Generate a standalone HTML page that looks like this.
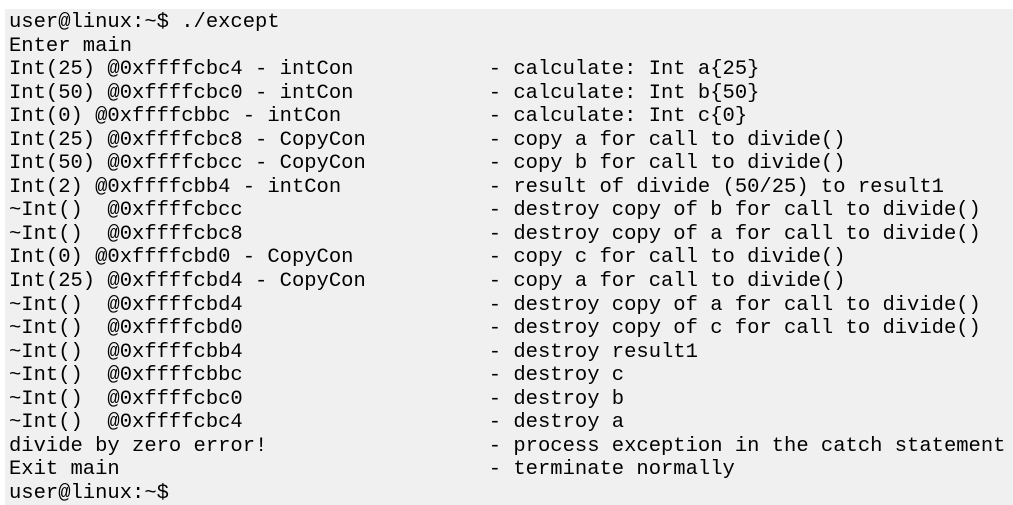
<!DOCTYPE html>
<html><head><style>
html,body{margin:0;padding:0;background:#fff;width:1013px;height:505px;overflow:hidden}
#t{position:absolute;left:5px;top:9px;width:1008px;height:496px;background:#f0f0f0}
pre{position:absolute;left:9px;top:11px;margin:0;font-family:"Liberation Mono",monospace;font-size:20.5px;line-height:23.55px;color:#000}
</style></head><body><div id="t"></div><pre>user@linux:~$ ./except
Enter main
Int(25) @0xffffcbc4 - intCon           - calculate: Int a{25}
Int(50) @0xffffcbc0 - intCon           - calculate: Int b{50}
Int(0) @0xffffcbbc - intCon            - calculate: Int c{0}
Int(25) @0xffffcbc8 - CopyCon          - copy a for call to divide()
Int(50) @0xffffcbcc - CopyCon          - copy b for call to divide()
Int(2) @0xffffcbb4 - intCon            - result of divide (50/25) to result1
~Int()  @0xffffcbcc                    - destroy copy of b for call to divide()
~Int()  @0xffffcbc8                    - destroy copy of a for call to divide()
Int(0) @0xffffcbd0 - CopyCon           - copy c for call to divide()
Int(25) @0xffffcbd4 - CopyCon          - copy a for call to divide()
~Int()  @0xffffcbd4                    - destroy copy of a for call to divide()
~Int()  @0xffffcbd0                    - destroy copy of c for call to divide()
~Int()  @0xffffcbb4                    - destroy result1
~Int()  @0xffffcbbc                    - destroy c
~Int()  @0xffffcbc0                    - destroy b
~Int()  @0xffffcbc4                    - destroy a
divide by zero error!                  - process exception in the catch statement
Exit main                              - terminate normally
user@linux:~$</pre></body></html>
